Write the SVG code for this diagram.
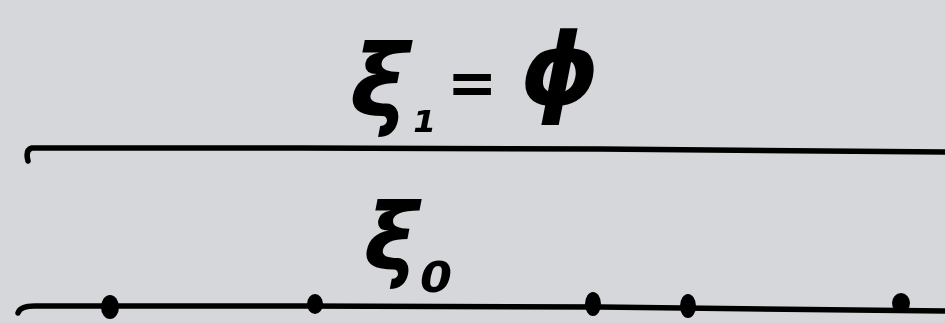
<svg xmlns="http://www.w3.org/2000/svg" width="945" height="323" viewBox="0 0 945 323">
<style>
.ln{fill:none;stroke:#000;stroke-width:5.5;stroke-linecap:round;stroke-linejoin:round}
.dot{fill:#000}
.t{font-family:"DejaVu Sans",sans-serif;fill:#000;font-weight:bold;font-style:italic}
</style>
<rect width="945" height="323" fill="#d6d7db"/>
<g id="label-top">
<text class="t" x="350" y="116" font-size="100">ξ</text>
<text class="t" x="411" y="132" font-size="54">₁</text>
<text class="t" x="447" y="104" font-size="60">=</text>
<text class="t" x="520" y="104" font-size="100">ϕ</text>
</g>
<g id="label-bottom">
<text class="t" x="364" y="270" font-size="92">ξ</text>
<text class="t" x="420" y="292" font-size="75">₀</text>
</g>
<g id="connectors">
<path class="ln" d="M28,161 Q25,150 32,148 L300,148 L600,149 L945,152"/>
<path class="ln" d="M18,313 Q20,306 35,306 L300,306 L600,307 L945,311"/>
</g>
<g id="dots">
<ellipse class="dot" cx="110" cy="307" rx="9" ry="12"/>
<ellipse class="dot" cx="315" cy="304" rx="8" ry="10"/>
<ellipse class="dot" cx="593" cy="304" rx="8" ry="12"/>
<ellipse class="dot" cx="688" cy="306" rx="8" ry="12"/>
<ellipse class="dot" cx="901" cy="303" rx="9" ry="10"/>
</g>
</svg>
